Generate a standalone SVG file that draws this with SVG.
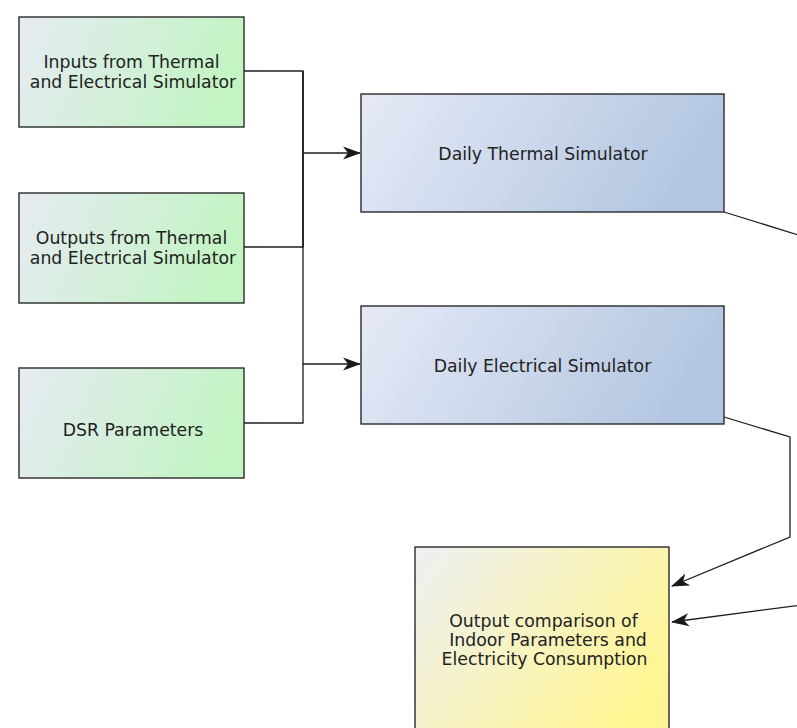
<svg xmlns="http://www.w3.org/2000/svg" width="797" height="728" viewBox="0 0 797 728">
<style>
.box{stroke:#2a2a2a;stroke-width:1.4}
.lbl{font-family:"DejaVu Sans",sans-serif;font-size:17.3px;fill:#222;text-anchor:middle}
.conn{fill:none;stroke:#1e1e1e;stroke-width:1.3}
</style>
<defs>
<linearGradient id="gGreen" x1="0" y1="0" x2="1" y2="0.2">
<stop offset="0" stop-color="#e6ebf3"/>
<stop offset="1" stop-color="#c3f4c3"/>
</linearGradient>
<linearGradient id="gBlue" x1="0" y1="0" x2="1" y2="0.2">
<stop offset="0" stop-color="#e6eaf6"/>
<stop offset="1" stop-color="#b3c6e1"/>
</linearGradient>
<linearGradient id="gYellow" x1="0" y1="0" x2="1" y2="0.6">
<stop offset="0" stop-color="#eef0f3"/>
<stop offset="1" stop-color="#fff693"/>
</linearGradient>
<marker id="arr" viewBox="0 0 18 14" refX="17" refY="7" markerWidth="18" markerHeight="14" markerUnits="userSpaceOnUse" orient="auto">
<path d="M0,0.5 L18,7 L0,13.5 L5,7 z" fill="#1a1a1a"/>
</marker>
</defs>
<rect width="797" height="728" fill="#fff"/>

<g id="connectors">
<path class="conn" d="M244,71 H303 V153 H360" marker-end="url(#arr)"/>
<path class="conn" d="M244,247 H303 V153"/>
<path class="conn" d="M303,71 V247" style="stroke-width:1.7"/>
<path class="conn" d="M303,247 V364 H360" marker-end="url(#arr)"/>
<path class="conn" d="M244,423 H303 V364"/>
<path class="conn" d="M724,212 L840,248 L840,600 L672,622" marker-end="url(#arr)"/>
<path class="conn" d="M724,417 L790,437 L790,537 L672,586" marker-end="url(#arr)"/>
</g>

<g id="inputs">
<rect class="box" x="19" y="17" width="225" height="110" fill="url(#gGreen)"/>
<text class="lbl" x="131.5" y="68">Inputs from Thermal</text>
<text class="lbl" x="133" y="88">and Electrical Simulator</text>
</g>

<g id="outputs">
<rect class="box" x="19" y="193" width="225" height="110" fill="url(#gGreen)"/>
<text class="lbl" x="131.5" y="244">Outputs from Thermal</text>
<text class="lbl" x="133" y="264">and Electrical Simulator</text>
</g>

<g id="dsr">
<rect class="box" x="19" y="368" width="225" height="110" fill="url(#gGreen)"/>
<text class="lbl" x="133" y="436">DSR Parameters</text>
</g>

<g id="thermal">
<rect class="box" x="361" y="94" width="363" height="118" fill="url(#gBlue)"/>
<text class="lbl" x="543" y="160">Daily Thermal Simulator</text>
</g>

<g id="electrical">
<rect class="box" x="361" y="306" width="363" height="118" fill="url(#gBlue)"/>
<text class="lbl" x="542.5" y="372">Daily Electrical Simulator</text>
</g>

<g id="comparison">
<rect class="box" x="415" y="547" width="254" height="200" fill="url(#gYellow)"/>
<text class="lbl" x="543.5" y="627">Output comparison of</text>
<text class="lbl" x="548" y="646">Indoor Parameters and</text>
<text class="lbl" x="544.5" y="665">Electricity Consumption</text>
</g>
</svg>
